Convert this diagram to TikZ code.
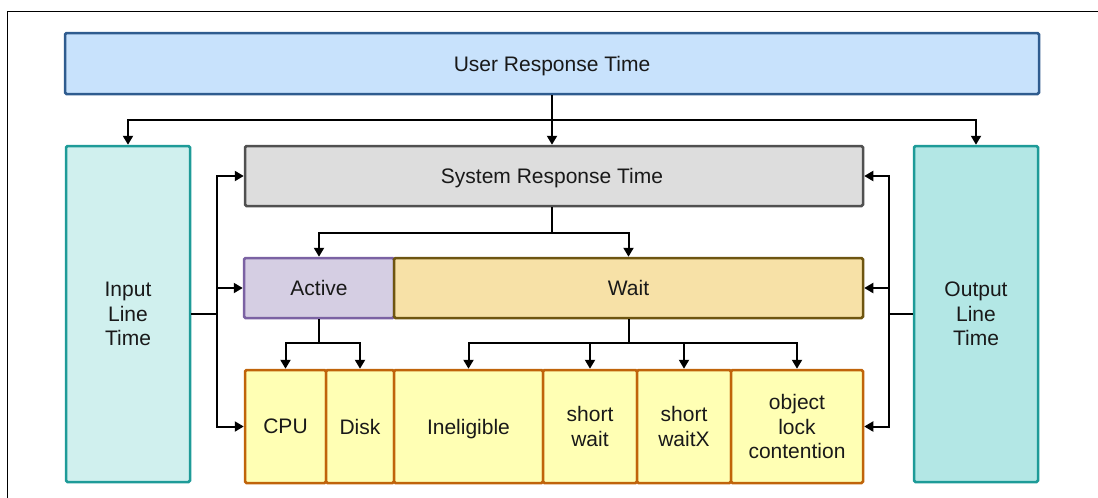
\documentclass[tikz,border=0pt]{standalone}
\usepackage{fontspec}
\setmainfont{Liberation Sans}
\usetikzlibrary{arrows.meta}
\definecolor{urtF}{HTML}{C8E2FC}\definecolor{urtD}{HTML}{2F5C8F}
\definecolor{srtF}{HTML}{DDDDDD}\definecolor{srtD}{HTML}{505050}
\definecolor{inF}{HTML}{D0F0EE}\definecolor{outF}{HTML}{B3E7E5}\definecolor{lineD}{HTML}{1E9B98}
\definecolor{actF}{HTML}{D5CEE3}\definecolor{actD}{HTML}{7B62A3}
\definecolor{waitF}{HTML}{F7E1A7}\definecolor{waitD}{HTML}{6E5510}
\definecolor{botF}{HTML}{FFFFB4}\definecolor{botD}{HTML}{C0640A}
\tikzset{
  box/.style={rectangle, rounded corners=1.5pt, line width=2.5pt, inner sep=0pt, align=center,
    font=\fontsize{21}{24.5}\selectfont, text=black!90, text depth=0pt},
  urtbox/.style={box, fill=urtF, draw=urtD},
  srtbox/.style={box, fill=srtF, draw=srtD},
  inbox/.style={box, fill=inF, draw=lineD},
  outbox/.style={box, fill=outF, draw=lineD},
  actbox/.style={box, fill=actF, draw=actD},
  waitbox/.style={box, fill=waitF, draw=waitD},
  botbox/.style={box, fill=botF, draw=botD, minimum height=113pt},
  conn/.style={line width=2pt, black},
  arr/.style={conn, -{Triangle[length=9pt,width=10pt]}},
}
\begin{document}
\begin{tikzpicture}[x=1pt,y=-1pt]
\useasboundingbox (0,0) rectangle (1098,498);
\draw[line width=1pt] (7,498) -- (7,11) -- (1098,11);
% boxes
\node[urtbox, minimum width=974pt, minimum height=61pt] (URT) at (552,63.5) {User Response Time};
\node[inbox, minimum width=124pt, minimum height=336pt] (InL) at (128,314) {Input\\Line\\Time};
\node[outbox, minimum width=124pt, minimum height=336pt] (OutL) at (976,314) {Output\\Line\\Time};
\node[srtbox, minimum width=618pt, minimum height=60pt] (SRT) at (554,176) {\hspace*{-4pt}System Response Time};
\node[actbox, minimum width=150pt, minimum height=60pt] (Act) at (319,288) {Active};
\node[waitbox, minimum width=469pt, minimum height=60pt] (Wait) at (628.5,288) {Wait};
\node[botbox, minimum width=81pt] (CPU) at (285.5,426.5) {CPU};
\node[botbox, minimum width=68pt] (Disk) at (360,426.5) {Disk};
\node[botbox, minimum width=149pt] (Inel) at (468.5,426.5) {Ineligible};
\node[botbox, minimum width=94pt] (SW) at (590,426.5) {short\\wait};
\node[botbox, minimum width=94pt] (SWX) at (684,426.5) {short\\waitX};
\node[botbox, minimum width=132pt] (Obj) at (797,426.5) {object\\lock\\contention};
% junctions
\coordinate (u1) at (552,120);
\coordinate (s1) at (552,233);
\coordinate (a1) at (319,343);
\coordinate (w1) at (628.5,343);
\coordinate (lb) at (217,314);
\coordinate (rb) at (889,314);
% connectors
\draw[conn] (URT.south -| u1) -- (u1);
\draw[arr] (u1) -| (InL.north);
\draw[arr] (u1) -| (OutL.north);
\draw[arr] (u1) -- (SRT.north -| u1);
\draw[conn] (SRT.south -| s1) -- (s1);
\draw[arr] (s1) -| (Act.north);
\draw[arr] (s1) -| (Wait.north);
\draw[conn] (Act.south) -- (a1);
\draw[arr] (a1) -| (CPU.north);
\draw[arr] (a1) -| (Disk.north);
\draw[conn] (Wait.south) -- (w1);
\draw[arr] (w1) -| (Inel.north);
\draw[arr] (w1) -| (SW.north);
\draw[arr] (w1) -| (SWX.north);
\draw[arr] (w1) -| (Obj.north);
\draw[conn] (InL.east |- lb) -- (lb);
\draw[arr] (lb) |- (SRT.west);
\draw[arr] (lb) |- (Act.west);
\draw[arr] (lb) |- (CPU.west);
\draw[conn] (OutL.west |- rb) -- (rb);
\draw[arr] (rb) |- (SRT.east);
\draw[arr] (rb) |- (Wait.east);
\draw[arr] (rb) |- (Obj.east);
\end{tikzpicture}
\end{document}
